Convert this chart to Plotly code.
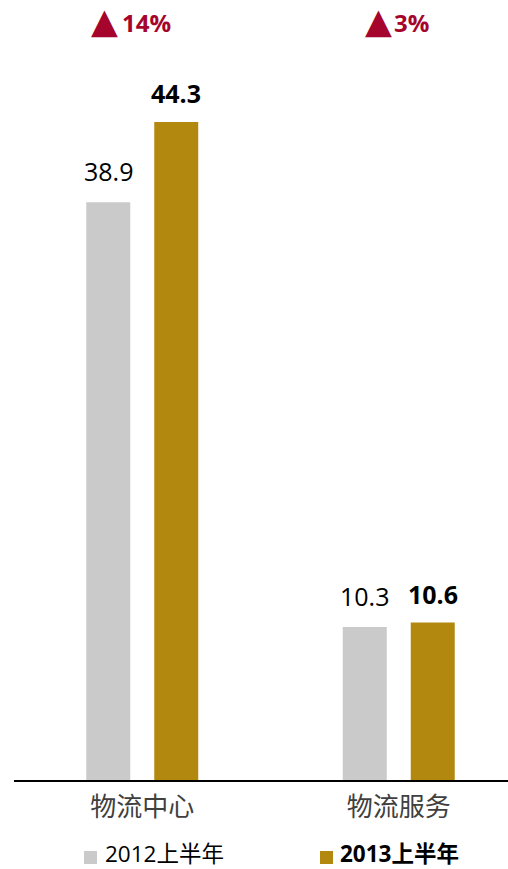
import plotly.graph_objects as go

categories = ["物流中心", "物流服务"]
series_names = ["2012上半年", "2013上半年"]
values_2012 = [38.9, 10.3]
values_2013 = [44.3, 10.6]
growth_labels = ["14%", "3%"]

GRAY = "#CACACA"
GOLD = "#B3880F"
RED = "#A5052C"
FONT = "Open Sans, Noto Sans CJK SC, sans-serif"

W, H = 508, 869
ML, MR, MT, MB = 14, 0, 40, 89
PW, PH = W - ML - MR, H - MT - MB


def px(x):
    return (x - ML) / PW


def py(y):
    return (H - MB - y) / PH


BAR_W = 0.1715
OFF_A = -0.2183
OFF_B = 0.0468

fig = go.Figure()
fig.add_trace(go.Bar(x=categories, y=values_2012, name=series_names[0],
                     marker=dict(color=GRAY, line=dict(width=0)),
                     width=BAR_W, offset=OFF_A, showlegend=False))
fig.add_trace(go.Bar(x=categories, y=values_2013, name=series_names[1],
                     marker=dict(color=GOLD, line=dict(width=0)),
                     width=BAR_W, offset=OFF_B, showlegend=False))

annotations = []
for i, (a, b) in enumerate(zip(values_2012, values_2013)):
    annotations.append(dict(x=i + OFF_A + BAR_W / 2, y=a, xref="x", yref="y",
                            text=f"{a:.1f}", showarrow=False, yanchor="bottom",
                            yshift=12, font=dict(family=FONT, size=25, color="#000000")))
    annotations.append(dict(x=i + OFF_B + BAR_W / 2, y=b, xref="x", yref="y",
                            text=f"<b>{b:.1f}</b>", showarrow=False, yanchor="bottom",
                            yshift=10, font=dict(family=FONT, size=25, color="#000000")))

# growth markers at top
tri_x = [104.5, 378.5]
pct_x = [146, 411]
for i, g in enumerate(growth_labels):
    annotations.append(dict(x=px(tri_x[i]), y=py(21), xref="paper", yref="paper",
                            text="▲", showarrow=False, xanchor="center", yanchor="middle",
                            font=dict(family="DejaVu Sans", size=35, color=RED)))
    annotations.append(dict(x=px(pct_x[i]), y=py(23), xref="paper", yref="paper",
                            text=f"<b>{g}</b>", showarrow=False, xanchor="center", yanchor="middle",
                            font=dict(family=FONT, size=24, color=RED)))

# legend
shapes = []
leg_sq = [(84, 97), (320, 333)]
leg_tx = [104, 339]
leg_text = [series_names[0], f"<b>{series_names[1]}</b>"]
leg_col = [GRAY, GOLD]
for i in range(2):
    shapes.append(dict(type="rect", xref="paper", yref="paper",
                       x0=px(leg_sq[i][0]), x1=px(leg_sq[i][1]),
                       y0=py(864), y1=py(851), fillcolor=leg_col[i], line=dict(width=0)))
    annotations.append(dict(x=px(leg_tx[i]), y=py(853), xref="paper", yref="paper",
                            text=leg_text[i], showarrow=False, xanchor="left", yanchor="middle",
                            borderpad=0,
                            font=dict(family=FONT, size=22.5, color="#000000")))

fig.update_layout(
    width=W, height=H,
    margin=dict(l=ML, r=MR, t=MT, b=MB, pad=0),
    paper_bgcolor="white", plot_bgcolor="white",
    barmode="overlay",
    showlegend=False,
    annotations=annotations,
    shapes=shapes,
    xaxis=dict(type="category", range=[-0.5, -0.5 + PW / 256.5],
               showline=True, linecolor="#000000", linewidth=1.6,
               showgrid=False, zeroline=False, ticks="", ticklabelstandoff=3,
               tickfont=dict(family="Noto Sans CJK SC", size=26, color="#404040")),
    yaxis=dict(range=[0, PH / 14.855], visible=False, showgrid=False, zeroline=False),
)

fig.write_html(
    "out.html",
    config={"displayModeBar": False},
    post_script="document.documentElement.style.margin='0';document.body.style.margin='0';"
                "document.body.style.overflow='hidden';",
)
